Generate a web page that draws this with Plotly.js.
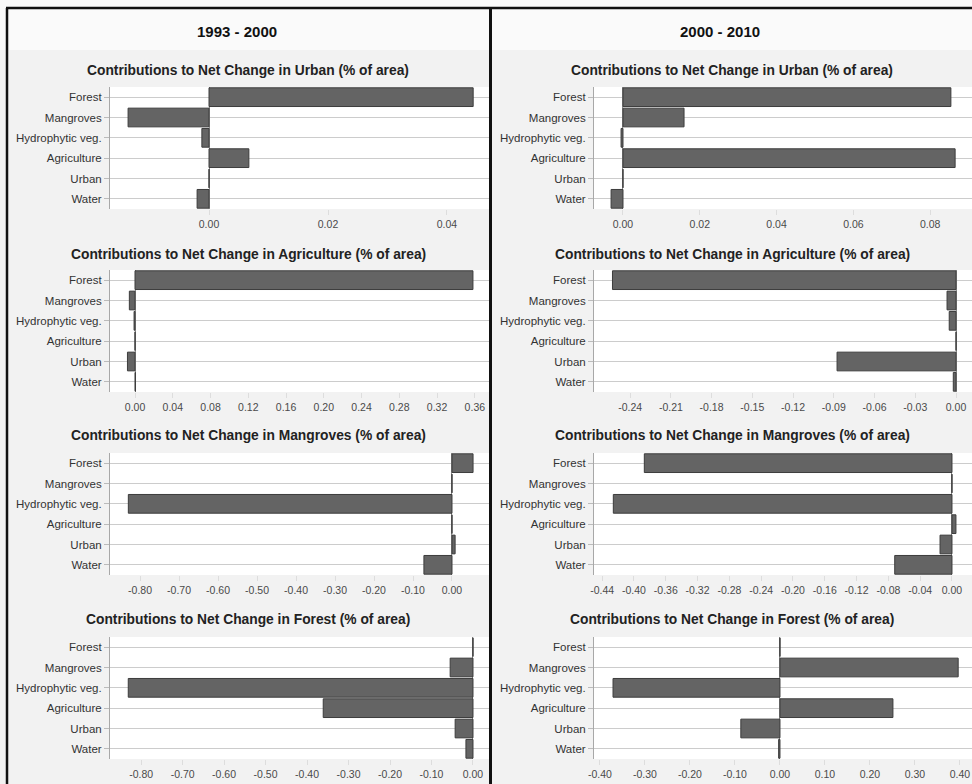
<!DOCTYPE html>
<html>
<head>
<meta charset="utf-8">
<script src="https://cdn.plot.ly/plotly-3.0.1.min.js"></script>
<style>
  html, body { margin: 0; padding: 0; background: #ffffff; }
  #chart { width: 972px; height: 784px; }
</style>
</head>
<body>
<div id="chart"></div>
<script>
// ---------------- DATA ----------------
const categories = ['Forest', 'Mangroves', 'Hydrophytic veg.', 'Agriculture', 'Urban', 'Water'];

const periodTitles = ['1993 - 2000', '2000 - 2010'];
const changeTargets = ['Urban', 'Agriculture', 'Mangroves', 'Forest'];

// 1993 - 2000
const urban9300       = [0.0444, -0.0136, -0.0012, 0.0067, 0, -0.0020];
const agriculture9300 = [0.358, -0.006, -0.001, 0, -0.008, 0.0005];
const mangroves9300   = [0.054, 0, -0.830, 0, 0.008, -0.072];
const forest9300      = [0, -0.055, -0.831, -0.361, -0.043, -0.017];

// 2000 - 2010
const urban0010       = [0.0854, 0.0159, -0.0005, 0.0865, 0, -0.0031];
const agriculture0010 = [-0.253, -0.0066, -0.005, 0, -0.0876, -0.002];
const mangroves0010   = [-0.387, 0, -0.426, 0.005, -0.015, -0.072];
const forest0010      = [0, 0.396, -0.371, 0.251, -0.087, -0.003];

// tick values
const ticksUrban9300       = [0.00, 0.02, 0.04];
const ticksAgriculture9300 = [0.00, 0.04, 0.08, 0.12, 0.16, 0.20, 0.24, 0.28, 0.32, 0.36];
const ticksMangroves9300   = [-0.80, -0.70, -0.60, -0.50, -0.40, -0.30, -0.20, -0.10, 0.00];
const ticksForest9300      = [-0.80, -0.70, -0.60, -0.50, -0.40, -0.30, -0.20, -0.10, 0.00];
const ticksUrban0010       = [0.00, 0.02, 0.04, 0.06, 0.08];
const ticksAgriculture0010 = [-0.24, -0.21, -0.18, -0.15, -0.12, -0.09, -0.06, -0.03, 0.00];
const ticksMangroves0010   = [-0.44, -0.40, -0.36, -0.32, -0.28, -0.24, -0.20, -0.16, -0.12, -0.08, -0.04, 0.00];
const ticksForest0010      = [-0.40, -0.30, -0.20, -0.10, 0.00, 0.10, 0.20, 0.30, 0.40];

// ---------------- LAYOUT HELPERS ----------------
const W = 972, H = 784;
const fx = p => p / W;
const fy = p => 1 - p / H;

const rowsPx = [[87, 209], [270, 392], [453, 575], [637, 759]];
const colsPx = [[110, 489], [594, 972]];
const titleY = [70, 254, 435, 619];
const titleX = [248, 732];

const charts = [
  {vals: urban9300,       ticks: ticksUrban9300,       col: 0, row: 0, range: [-0.01664, 0.04706]},
  {vals: agriculture9300, ticks: ticksAgriculture9300, col: 0, row: 1, range: [-0.0265, 0.375]},
  {vals: mangroves9300,   ticks: ticksMangroves9300,   col: 0, row: 2, range: [-0.877, 0.0949]},
  {vals: forest9300,      ticks: ticksForest9300,      col: 0, row: 3, range: [-0.875, 0.0386]},
  {vals: urban0010,       ticks: ticksUrban0010,       col: 1, row: 0, range: [-0.00755, 0.0909]},
  {vals: agriculture0010, ticks: ticksAgriculture0010, col: 1, row: 1, range: [-0.2666, 0.01178]},
  {vals: mangroves0010,   ticks: ticksMangroves0010,   col: 1, row: 2, range: [-0.4503, 0.0252]},
  {vals: forest0010,      ticks: ticksForest0010,      col: 1, row: 3, range: [-0.4133, 0.4267]}
];

const FONT = 'Liberation Sans, Arial, sans-serif';

const traces = [];
const layout = {
  width: W, height: H,
  margin: {l: 0, r: 0, t: 0, b: 0},
  paper_bgcolor: '#f2f2f2',
  plot_bgcolor: '#ffffff',
  showlegend: false,
  bargap: 0.08,
  font: {family: FONT, size: 10, color: '#333333'},
  annotations: [],
  shapes: []
};

charts.forEach((c, i) => {
  const n = i + 1;
  const xa = 'xaxis' + (n === 1 ? '' : n);
  const ya = 'yaxis' + (n === 1 ? '' : n);
  const xr = 'x' + (n === 1 ? '' : n);
  const yr = 'y' + (n === 1 ? '' : n);
  traces.push({
    type: 'bar',
    orientation: 'h',
    x: c.vals,
    y: categories,
    xaxis: xr, yaxis: yr,
    marker: {color: '#646464', line: {color: '#3c3c3c', width: 1}},
    hoverinfo: 'x+y'
  });
  const cx = colsPx[c.col], ry = rowsPx[c.row];
  layout[xa] = {
    domain: [fx(cx[0]), fx(cx[1])],
    anchor: yr,
    range: c.range,
    tickmode: 'array',
    tickvals: c.ticks,
    ticktext: c.ticks.map(v => v.toFixed(2)),
    showgrid: false,
    zeroline: true,
    zerolinecolor: '#8a8a8a',
    zerolinewidth: 1,
    showline: false,
    ticks: 'outside',
    ticklen: 5,
    tickcolor: '#dddddd',
    tickfont: {family: FONT, size: 10.5, color: '#4a4a4a'},
    fixedrange: true
  };
  layout[ya] = {
    domain: [fy(ry[1]), fy(ry[0])],
    anchor: xr,
    type: 'category',
    categoryorder: 'array',
    categoryarray: categories,
    autorange: 'reversed',
    showgrid: true,
    gridcolor: '#cccccc',
    gridwidth: 1,
    showline: true,
    linecolor: '#a8a8a8',
    linewidth: 1,
    ticks: 'outside',
    ticklen: 5,
    tickcolor: '#bbbbbb',
    tickfont: {family: FONT, size: 11.5, color: '#333333'},
    fixedrange: true
  };
  layout.annotations.push({
    xref: 'paper', yref: 'paper',
    x: fx(titleX[c.col]), y: fy(titleY[c.row]),
    xanchor: 'center', yanchor: 'middle',
    showarrow: false,
    text: 'Contributions to Net Change in ' + changeTargets[c.row] + ' (% of area)',
    font: {family: FONT, size: 13.8, color: '#222222', weight: 'bold'}
  });
});

// period headers
periodTitles.forEach((t, i) => {
  layout.annotations.push({
    xref: 'paper', yref: 'paper',
    x: fx([237, 720][i]), y: fy(31),
    xanchor: 'center', yanchor: 'middle',
    showarrow: false,
    text: t,
    font: {family: FONT, size: 15, color: '#111111', weight: 'bold'}
  });
});

// header band (lighter) behind titles
layout.shapes.push({type: 'rect', xref: 'paper', yref: 'paper', layer: 'below',
  x0: 0, x1: 1, y0: fy(50), y1: 1, fillcolor: '#fafafa', line: {width: 0}});

// black frame lines
layout.shapes.push({type: 'line', xref: 'paper', yref: 'paper', layer: 'above',
  x0: fx(6), x1: 1, y0: fy(8), y1: fy(8), line: {color: '#111111', width: 2.5}});
layout.shapes.push({type: 'line', xref: 'paper', yref: 'paper', layer: 'above',
  x0: fx(7), x1: fx(7), y0: fy(8), y1: 0, line: {color: '#111111', width: 2.5}});
layout.shapes.push({type: 'line', xref: 'paper', yref: 'paper', layer: 'above',
  x0: fx(490.5), x1: fx(490.5), y0: fy(8), y1: 0, line: {color: '#111111', width: 3}});

Plotly.newPlot('chart', traces, layout, {displayModeBar: false, staticPlot: true});
</script>
</body>
</html>
